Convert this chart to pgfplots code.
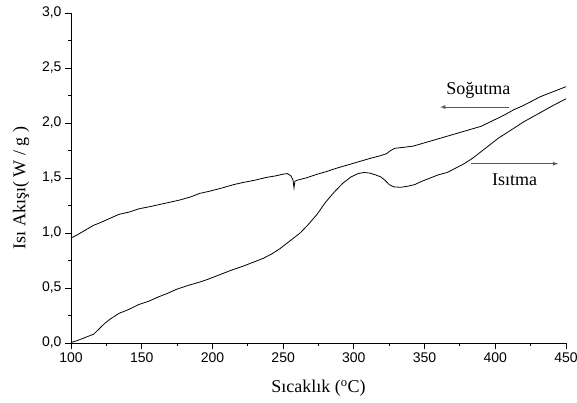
\documentclass[border=0pt]{standalone}
\usepackage{pgfplots}
\pgfplotsset{compat=1.18}
\usepackage{fontspec}
\setmainfont{Liberation Serif}
\setsansfont{Liberation Sans}

% DSC run: heating and cooling traces
\pgfplotstableread{
T Q
100 0.005
104 0.02
108 0.04
112 0.06
116 0.08
120 0.13
124 0.18
128 0.22
134 0.27
140 0.30
148 0.35
155 0.38
162 0.42
168 0.45
175 0.49
182 0.52
190 0.55
197 0.58
205 0.62
213 0.66
222 0.70
230 0.74
236 0.77
242 0.81
248 0.86
255 0.93
262 1.00
268 1.08
274 1.17
280 1.28
286 1.37
292 1.45
298 1.51
303 1.54
307 1.55
311 1.545
315 1.53
319 1.51
322 1.48
325 1.44
328 1.42
333 1.415
338 1.425
343 1.44
348 1.47
354 1.50
360 1.53
366 1.55
372 1.59
378 1.63
384 1.68
390 1.74
396 1.80
402 1.86
408 1.91
414 1.96
420 2.01
427 2.06
434 2.11
441 2.16
450 2.22
}\heating

\pgfplotstableread{
T Q
100 0.955
104 0.98
108 1.01
112 1.04
116 1.07
120 1.09
127 1.13
134 1.17
141 1.19
148 1.22
156 1.24
163 1.26
170 1.28
177 1.30
185 1.33
191 1.36
198 1.38
207 1.41
215 1.44
222 1.46
230 1.48
238 1.505
245 1.52
250 1.535
253 1.54
255.5 1.52
257 1.48
257.7 1.41
258.3 1.47
260 1.48
266 1.50
273 1.53
281 1.56
288 1.59
296 1.62
304 1.65
312 1.68
318 1.70
323 1.72
326 1.75
329 1.77
336 1.78
342 1.79
350 1.82
358 1.85
366 1.88
374 1.91
382 1.94
390 1.97
398 2.02
406 2.07
413 2.12
420 2.16
426 2.20
432 2.24
440 2.28
450 2.33
}\cooling

\begin{document}
\begin{tikzpicture}
\useasboundingbox (-71pt,-60pt) rectangle (506pt,343pt);
\begin{axis}[
  scale only axis,
  width=495pt, height=330pt,
  xmin=100, xmax=450, ymin=0, ymax=3,
  axis x line*=bottom, axis y line*=left,
  axis line style={line width=0.9pt},
  tick align=outside,
  major tick length=6pt, minor tick length=3pt,
  every tick/.style={line width=0.9pt, black},
  xtick={100,150,...,450}, minor x tick num=1,
  ytick={0,0.5,...,3}, minor y tick num=1,
  /pgf/number format/assume math mode=true,
  ticklabel style={font=\sffamily\fontsize{14}{14}\selectfont},
  yticklabel style={/pgf/number format/.cd, use comma, fixed, fixed zerofill, precision=1},
  xticklabel style={/pgf/number format/.cd, fixed, precision=0},
  xlabel={Sıcaklık (\textsuperscript{o}C)},
  ylabel={Isı Akışı( W / g )},
  label style={font=\fontsize{18}{18}\selectfont},
  xlabel style={at={(axis description cs:0.5,-0.137)}, anchor=center},
  ylabel style={at={(axis description cs:-0.101,0.47)}, anchor=center},
  clip=false,
]
\addplot[black, line width=0.8pt] table[x=T, y=Q] {\heating};
\addplot[black, line width=0.8pt] table[x=T, y=Q] {\cooling};

\draw[gray!70!black, line width=0.8pt, -latex] (axis cs:410,2.145) -- (axis cs:361,2.145);
\node[font=\fontsize{18}{18}\selectfont] at (axis cs:388,2.30) {Soğutma};
\draw[gray!70!black, line width=0.8pt, -latex] (axis cs:383,1.63) -- (axis cs:444.5,1.63);
\node[font=\fontsize{18}{18}\selectfont] at (axis cs:413.6,1.485) {Isıtma};
\end{axis}
\end{tikzpicture}
\end{document}
